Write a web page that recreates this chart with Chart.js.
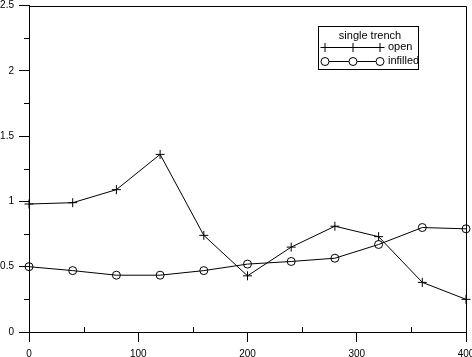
<!DOCTYPE html>
<html>
<head>
<meta charset="utf-8">
<script src="https://cdn.jsdelivr.net/npm/chart.js@4/dist/chart.umd.min.js"></script>
<style>
html,body{margin:0;padding:0;background:#fff;}
#wrap{width:472px;height:357px;position:relative;}
</style>
</head>
<body>
<div id="wrap"><canvas id="c" width="472" height="357"></canvas></div>
<script>
const xValues = [0, 40, 80, 120, 160, 200, 240, 280, 320, 360, 400];
const openValues = [0.98, 0.99, 1.09, 1.36, 0.74, 0.43, 0.65, 0.81, 0.73, 0.38, 0.25];
const infilledValues = [0.50, 0.47, 0.435, 0.435, 0.47, 0.52, 0.54, 0.565, 0.67, 0.80, 0.79];
const seriesLabels = ['open', 'infilled'];
const legendTitle = 'single trench';
const yTickLabels = ['0', '0.5', '1', '1.5', '2', '2.5'];
const xTickLabels = ['0', '100', '200', '300', '400'];

const FONT = '"Liberation Sans", Arial, sans-serif';

function pts(vals){ return xValues.map((x,i)=>({x:x, y:vals[i]})); }

const boxPlugin = {
  id: 'boxPlugin',
  afterDraw(chart){
    const ctx = chart.ctx, a = chart.chartArea;
    const xs = chart.scales.x, ys = chart.scales.y;
    ctx.save();
    ctx.strokeStyle = '#000';
    ctx.lineWidth = 1;
    // frame
    ctx.beginPath();
    ctx.moveTo(Math.round(a.left)+0.5, Math.round(a.bottom)+0.5);
    ctx.lineTo(Math.round(a.left)+0.5, Math.round(a.top)+0.5);
    ctx.lineTo(Math.round(a.right)+0.5, Math.round(a.top)+0.5);
    ctx.lineTo(Math.round(a.right)+0.5, Math.round(a.bottom)+0.5);
    ctx.stroke();
    // minor x ticks (inward)
    ctx.beginPath();
    for (let v = 50; v < 400; v += 100){
      const px = Math.round(xs.getPixelForValue(v)) + 0.5;
      ctx.moveTo(px, Math.round(a.bottom));
      ctx.lineTo(px, Math.round(a.bottom) - 5);
    }
    // minor y ticks (outward, short)
    for (let v = 0.25; v < 2.5; v += 0.5){
      const py = Math.round(ys.getPixelForValue(v)) + 0.5;
      ctx.moveTo(Math.round(a.left), py);
      ctx.lineTo(Math.round(a.left) - 5, py);
    }
    ctx.stroke();

    // legend
    const lx = 318.5, ly = 26.5, lw = 100, lh = 43;
    ctx.strokeRect(lx, ly, lw, lh);
    ctx.font = '11px ' + FONT;
    ctx.textBaseline = 'middle';
    ctx.textAlign = 'center';
    ctx.fillStyle = '#000';
    ctx.fillText(legendTitle, 370, 36);
    ctx.textAlign = 'left';
    const rows = [47, 61];
    chart.data.datasets.forEach((ds, i) => {
      const y = rows[i] + 0.5;
      ctx.strokeStyle = '#000';
      ctx.beginPath();
      ctx.moveTo(325, y);
      ctx.lineTo(380, y);
      ctx.stroke();
      [325, 353, 380].forEach(x => {
        ctx.fillStyle = '#fff';
        ctx.strokeStyle = '#000';
        ctx.lineWidth = 1;
        Chart.helpers.drawPoint(ctx, {
          pointStyle: ds.pointStyle, radius: ds.pointRadius, rotation: 0,
          borderWidth: 1
        }, x, y);
      });
      ctx.fillStyle = '#000';
      ctx.fillText(ds.label, 388, rows[i]);
    });
    ctx.restore();
  }
};

new Chart(document.getElementById('c'), {
  type: 'line',
  data: {
    datasets: [
      {
        label: seriesLabels[0],
        data: pts(openValues),
        borderColor: '#000',
        backgroundColor: 'rgba(0,0,0,0)',
        borderWidth: 1,
        pointStyle: 'cross',
        pointRadius: 4.5,
        pointBorderWidth: 1,
        pointBorderColor: '#000',
        tension: 0,
        clip: false
      },
      {
        label: seriesLabels[1],
        data: pts(infilledValues),
        borderColor: '#000',
        backgroundColor: 'rgba(0,0,0,0)',
        borderWidth: 1,
        pointStyle: 'circle',
        pointRadius: 4,
        pointBorderWidth: 1,
        pointBorderColor: '#000',
        pointBackgroundColor: 'rgba(0,0,0,0)',
        tension: 0,
        clip: false
      }
    ]
  },
  options: {
    responsive: false,
    animation: false,
    devicePixelRatio: 1,
    layout: { padding: { top: 4, right: 6, left: 0, bottom: 0 } },
    plugins: { legend: { display: false }, tooltip: { enabled: false } },
    scales: {
      x: {
        type: 'linear',
        min: 0, max: 400,
        afterBuildTicks(scale){ scale.ticks = xTickLabels.map(t => ({value: Number(t)})); },
        ticks: {
          color: '#000', font: { family: FONT, size: 10 }, padding: 6,
          maxRotation: 0, autoSkip: false,
          callback: (v, i) => xTickLabels[i]
        },
        grid: { drawOnChartArea: false, drawTicks: true, tickLength: 10, tickColor: '#000', color: '#000' },
        border: { display: true, color: '#000', width: 1 },
        afterFit(scale){ scale.height = 25; scale.paddingLeft = 0; scale.paddingRight = 0; }
      },
      y: {
        type: 'linear',
        min: 0, max: 2.5,
        afterBuildTicks(scale){ scale.ticks = yTickLabels.map(t => ({value: Number(t)})); },
        ticks: {
          color: '#000', font: { family: FONT, size: 10 }, padding: 5,
          autoSkip: false,
          callback: (v, i) => yTickLabels[i]
        },
        grid: { drawOnChartArea: false, drawTicks: true, tickLength: 10, tickColor: '#000', color: '#000' },
        border: { display: true, color: '#000', width: 1 },
        afterFit(scale){ scale.width = 29; scale.paddingTop = 0; scale.paddingBottom = 0; }
      }
    }
  },
  plugins: [boxPlugin]
});
</script>
</body>
</html>
